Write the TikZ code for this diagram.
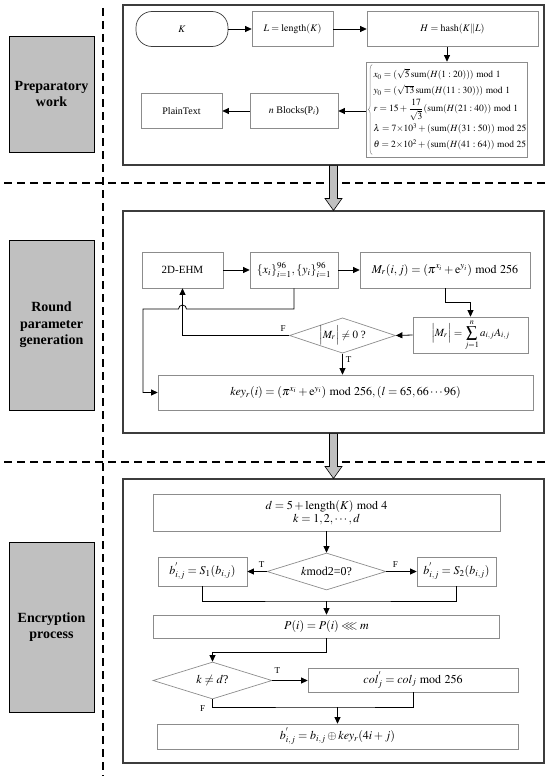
\documentclass[tikz,border=0pt]{standalone}
\usepackage{mathptmx}
\usepackage{amssymb}
\usepackage{fontspec}
\setmainfont{Liberation Serif}
\usetikzlibrary{arrows.meta,calc,shapes.geometric,decorations.pathreplacing}
\definecolor{boxgray}{RGB}{140,140,140}
\definecolor{framegray}{RGB}{60,60,60}
\definecolor{labgray}{RGB}{192,192,192}
\begin{document}
\begin{tikzpicture}[x=1pt,y=-1pt,
  every node/.style={font=\fontsize{12}{13}\selectfont},
  small/.style={font=\fontsize{10}{12}\selectfont},
  panel/.style={draw=framegray, line width=1.1pt, inner sep=0pt},
  lab/.style={draw=black, fill=labgray, line width=0.8pt, align=center, inner sep=1pt,
    font=\fontsize{14}{16.5}\selectfont\bfseries, minimum width=85},
  ibox/.style={draw=boxgray, line width=0.7pt, inner sep=1pt, align=center},
  dia/.style={ibox, shape=diamond, aspect=3, inner sep=0pt},
  arr/.style={-{Triangle[length=6.5pt,width=6pt]}, line width=0.8pt, black},
  ln/.style={line width=0.8pt, black},
  dsh/.style={dash pattern=on 8pt off 5pt, line width=1.1pt},
  tf/.style={font=\fontsize{9}{10}\selectfont},
  garr/.style={fill=labgray, draw=black, line width=0.6pt},
  brc/.style={decorate, decoration={brace, amplitude=4pt}, line width=0.5pt, draw=boxgray}
]
\useasboundingbox (0,0) rectangle (550,776);

% dividers
\draw[dsh] (103,8) -- (103,776);
\draw[dsh] (4,183) -- (546,183);
\draw[dsh] (4,462) -- (546,462);

% side labels
\node[lab, minimum height=116] (l1) at (51.5,94) {Preparatory\\work};
\node[lab, minimum height=170] (l2) at (51.5,325) {Round\\parameter\\generation};
\node[lab, minimum height=170] (l3) at (51.5,627) {Encryption\\process};

% panels
\node[panel, minimum width=421, minimum height=160] (p1) at (333.5,85) {};
\node[panel, minimum width=421, minimum height=222] (p2) at (333.5,322) {};
\node[panel, minimum width=421, minimum height=284] (p3) at (333.5,621) {};

% big gray arrows
\draw[garr] ($(p1.south)+(-4,0)$) -- ($(p2.north)+(-4,-12)$) -- ($(p2.north)+(-8.5,-12)$)
  -- (p2.north) -- ($(p2.north)+(8.5,-12)$) -- ($(p2.north)+(4,-12)$) -- ($(p1.south)+(4,0)$) -- cycle;
\draw[garr] ($(p2.south)+(-4,0)$) -- ($(p3.north)+(-4,-12)$) -- ($(p3.north)+(-8.5,-12)$)
  -- (p3.north) -- ($(p3.north)+(8.5,-12)$) -- ($(p3.north)+(4,-12)$) -- ($(p2.south)+(4,0)$) -- cycle;

% ---------- panel 1 ----------
\node[small, draw=framegray, line width=0.7pt, rounded corners=16pt, minimum width=92, minimum height=35] (K) at (182,29) {$K$};
\node[small, ibox, minimum width=81, minimum height=35] (L) at (292.5,29) {$L=\mathrm{length}(K)$};
\node[small, ibox, minimum width=171, minimum height=35] (H) at (452.5,29) {$H=\mathrm{hash}(K\Vert L)$};
\node[ibox, minimum width=160, minimum height=95, inner sep=1pt, anchor=center,
  font=\fontsize{9.5}{11.5}\selectfont] (form) at (447,109.5)
 {$\hspace{6pt}\renewcommand{\arraystretch}{1.4}\begin{array}{@{}l@{}}
 x_0=(\sqrt{5}\,\mathrm{sum}(H(1:20)))\bmod 1\\
 y_0=(\sqrt{13}\,\mathrm{sum}(H(11:30)))\bmod 1\\
 r=15+\displaystyle\frac{17}{\sqrt{3}}(\mathrm{sum}(H(21:40))\bmod 1\\
 \lambda=7{\times}10^3+(\mathrm{sum}(H(31:50))\bmod 25\\
 \theta=2{\times}10^2+(\mathrm{sum}(H(41:64))\bmod 25
 \end{array}$};
\draw[brc] ($(form.south west)+(6,-3)$) -- ($(form.north west)+(6,3)$);
\node[small, ibox, minimum width=88, minimum height=35] (nb) at (294,111) {$n$ Blocks(P$_i$)};
\node[small, ibox, minimum width=81, minimum height=35] (pt) at (181.5,111) {PlainText};

\draw[arr] (K) -- (L);
\draw[arr] (L) -- (H);
\draw[arr] (H.south -| form.north) -- (form.north);
\draw[arr] (nb.east -| form.west) -- (nb.east);
\draw[arr] (nb) -- (pt);

% ---------- panel 2 ----------
\node[ibox, minimum width=81, minimum height=36, font=\fontsize{11}{13}\selectfont] (ehm) at (182.5,270) {2D-EHM};
\node[ibox, minimum width=88, minimum height=36] (xy) at (294,270)
  {$\{x_i\}_{i=1}^{96},\{y_i\}_{i=1}^{96}$};
\node[ibox, minimum width=170, minimum height=36, inner sep=0pt] (Mr) at (445,270)
  {$M_r(i,j)=(\pi^{x_i}+\mathrm{e}^{y_i})\bmod 256$};
\node[ibox, minimum width=115, minimum height=36, inner sep=0pt, font=\fontsize{11}{13}\selectfont] (det) at (470.5,335)
  {$\displaystyle\Bigl|M_r\Bigr|=\sum_{j=1}^{n}a_{i,j}A_{i,j}$};
\node[dia, minimum width=99, minimum height=33, font=\fontsize{11}{13}\selectfont] (d1) at (342.5,335.5)
  {$\Bigl|M_r\Bigr|\neq 0$ ?};
\node[ibox, minimum width=375, minimum height=35] (key) at (345.5,392.5)
  {$key_r(i)=(\pi^{x_i}+\mathrm{e}^{y_i})\bmod 256,(l=65,66\cdots 96)$};

\draw[arr] (ehm) -- (xy);
\draw[arr] (xy) -- (Mr);
\draw[arr] (Mr.south) -- ++(0,14) -| (det.north);
\draw[arr] (det.west) -- (d1.east);
\draw[arr] (d1.west) -| (ehm.south);
\node[tf] at ($(d1.west)+(-6,-7)$) {F};
\draw[arr] (d1.south) -- (d1.south |- key.north);
\node[tf] at ($(d1.south)+(6,6)$) {T};
\coordinate (hop) at (ehm.south |- 0,309);
\draw[arr] (xy.south) |- ($(hop)+(4,0)$) arc (0:-180:4) -- (143,309) |- (key.west);

% ---------- panel 3 ----------
\node[ibox, minimum width=347, minimum height=37, align=center, inner sep=0pt,
  font=\fontsize{12}{13}\selectfont] (dd) at (326.5,512.5)
  {$d=5+\mathrm{length}(K)\bmod 4$\\ $k=1,2,\cdots,d$};
\node[dia, minimum width=119, minimum height=37] (d2) at (326.5,571.5) {$k$mod2=0?};
\node[ibox, minimum width=89, minimum height=29] (s1) at (202.5,571.5) {$b_{i,j}^{'}=S_1(b_{i,j})$};
\node[ibox, minimum width=79, minimum height=29] (s2) at (456.5,571.5) {$b_{i,j}^{'}=S_2(b_{i,j})$};
\node[ibox, minimum width=346, minimum height=23] (pb) at (326.5,626.5) {$P(i)=P(i)\lll m$};
\node[dia, minimum width=119, minimum height=37] (d3) at (212.5,680.5) {$k\neq d$?};
\node[ibox, minimum width=210, minimum height=24] (col) at (413,680) {$col_j^{'}=col_j\bmod 256$};
\node[ibox, minimum width=361, minimum height=25] (fb) at (337.5,736.5) {$b_{i,j}^{'}=b_{i,j}\oplus key_r(4i+j)$};

\draw[arr] (dd) -- (d2);
\draw[arr] (d2) -- (s1);
\node[tf] at ($(d2.west)+(-5,-7)$) {T};
\draw[arr] (d2) -- (s2);
\node[tf] at ($(d2.east)+(9,-7)$) {F};
\coordinate (m1) at (326.5,601);
\draw[ln] (s1.south) |- (m1) -| (s2.south);
\draw[arr] (m1) -- (pb.north);
\draw[arr] (pb.south) -- ++(0,14) -| (d3.north);
\draw[arr] (d3.east) -- (col.west |- d3.east);
\node[tf] at ($(d3.east)+(5,-10)$) {T};
\coordinate (m2) at (337.5,707);
\draw[ln] (d3.south) |- (m2) -| (col.south);
\draw[arr] (m2) -- (fb.north);
\node[tf] at ($(d3.south)+(-10,9)$) {F};
\end{tikzpicture}
\end{document}
